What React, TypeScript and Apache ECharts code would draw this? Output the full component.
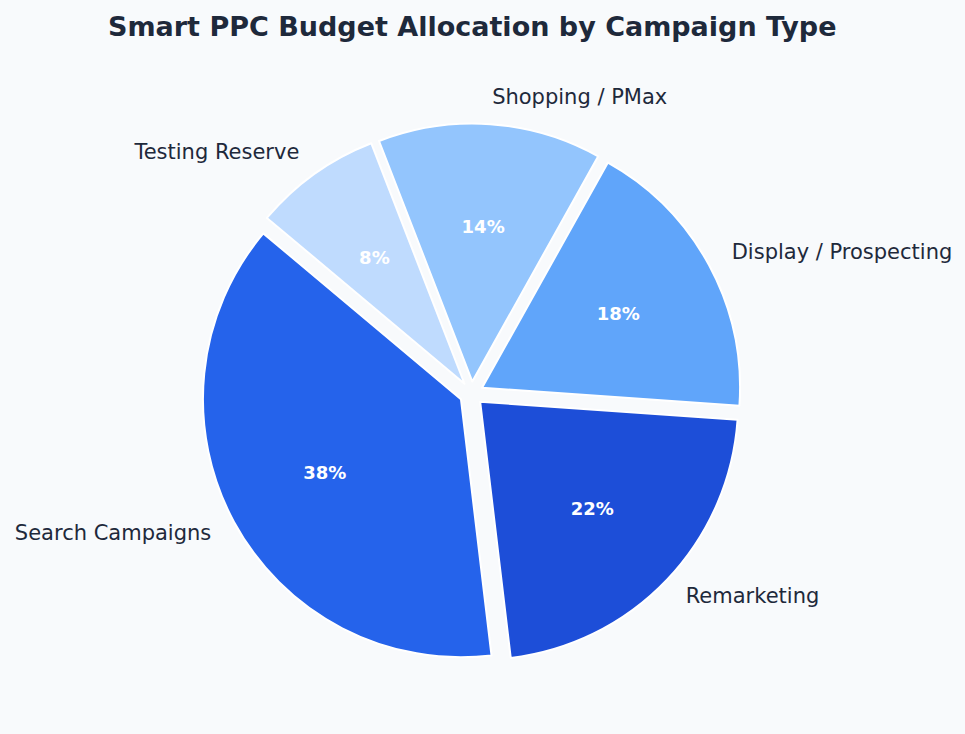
import React, { useEffect, useRef } from "react";
import * as echarts from "echarts";

const categories = ["Search Campaigns", "Remarketing", "Display / Prospecting", "Shopping / PMax", "Testing Reserve"];
const shares = [38, 22, 18, 14, 8];
const colors = ["#2563eb", "#1d4ed8", "#60a5fa", "#93c5fd", "#bfdbfe"];

const CX = 471.5;
const CY = 393.5;
const R = 258;
const OFFSET = 12;
const START = 140;

function midAngle(idx: number): number {
  const total = shares.reduce((a, b) => a + b, 0);
  let cum = 0;
  for (let i = 0; i < idx; i++) cum += shares[i];
  return ((START + (360 * (cum + shares[idx] / 2)) / total) * Math.PI) / 180;
}

export default function App() {
  const ref = useRef<HTMLDivElement>(null);
  useEffect(() => {
    if (!ref.current) return;
    const chart = echarts.init(ref.current, null, { renderer: "svg" });
    const outerLayout = (p: any) => {
      const a = midAngle(p.dataIndex);
      const d = R * 1.1 + OFFSET;
      const c = Math.cos(a);
      return {
        x: CX + d * c,
        y: CY - d * Math.sin(a) - 1,
        align: c >= 0 ? "left" : "right",
        verticalAlign: "middle",
      };
    };
    const innerLayout = (p: any) => {
      const a = midAngle(p.dataIndex);
      const d = R * 0.6 + OFFSET;
      return {
        x: CX + d * Math.cos(a),
        y: CY - d * Math.sin(a) - 0.5,
        align: "center",
        verticalAlign: "middle",
      };
    };
    const base = {
      type: "pie",
      center: [CX, CY],
      radius: [0, R],
      startAngle: START,
      clockwise: false,
      avoidLabelOverlap: false,
      emphasis: { disabled: true },
      silent: true,
    };
    chart.setOption({
      animation: false,
      backgroundColor: "#f8fafc",
      title: {
        text: "Smart PPC Budget Allocation by Campaign Type",
        left: 103,
        top: 8,
        textStyle: { fontFamily: "DejaVu Sans", fontWeight: "bold", fontSize: 27, color: "#1e293b" },
      },
      series: [
        {
          ...base,
          selectedMode: "multiple",
          selectedOffset: OFFSET,
          data: categories.map((name, i) => ({
            name,
            value: shares[i],
            selected: true,
            itemStyle: { color: colors[i] },
          })),
          itemStyle: { borderColor: "#ffffff", borderWidth: 2 },
          label: { show: false },
          labelLine: { show: false },
        },
        {
          ...base,
          selectedMode: false,
          data: categories.map((name, i) => ({ name, value: shares[i] })),
          itemStyle: { color: "rgba(0,0,0,0)", borderWidth: 0 },
          label: {
            show: true,
            position: "outside",
            formatter: "{b}",
            fontFamily: "DejaVu Sans",
            fontSize: 21,
            color: "#1e293b",
          },
          labelLine: { show: false },
          labelLayout: outerLayout,
        },
        {
          ...base,
          selectedMode: false,
          data: categories.map((name, i) => ({ name, value: shares[i] })),
          itemStyle: { color: "rgba(0,0,0,0)", borderWidth: 0 },
          label: {
            show: true,
            position: "inside",
            formatter: (p: any) => Math.round(p.percent) + "%",
            fontFamily: "DejaVu Sans",
            fontWeight: "bold",
            fontSize: 18,
            color: "#ffffff",
          },
          labelLine: { show: false },
          labelLayout: innerLayout,
        },
      ],
    });
    return () => chart.dispose();
  }, []);
  return <div ref={ref} style={{ position: "fixed", left: 0, top: 0, width: 965, height: 734 }} />;
}
